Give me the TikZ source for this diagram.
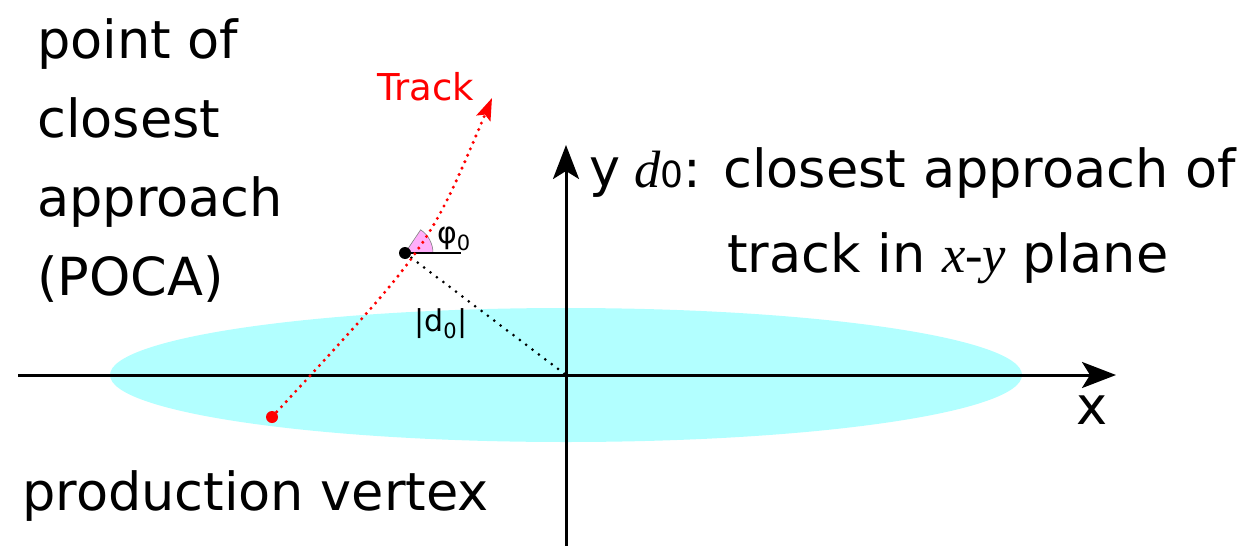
\documentclass[tikz,border=0pt]{standalone}
\usepackage{fontspec}
\setmainfont{DejaVu Sans}
\newfontfamily\serifit{Liberation Serif}
\usetikzlibrary{arrows.meta}

\definecolor{spot}{RGB}{178,255,255}
\definecolor{wedge}{RGB}{255,175,250}

\tikzset{
  big/.style={font=\fontsize{52.5}{79}\selectfont, inner sep=0pt},
  small/.style={font=\fontsize{30}{34}\selectfont, inner sep=0pt},
  axis/.style={line width=3pt, -{Stealth[length=34pt,width=26pt,inset=8pt]}},
}

\begin{document}
\begin{tikzpicture}[x=1pt,y=-1pt]
		\useasboundingbox (0,0) rectangle (1253,546);
		
		% Beam spot
		\fill[spot] (566,375) ellipse [x radius=456, y radius=67];
		
		% Points
		\coordinate (O) at (566,375);
		\coordinate (P) at (405,253); % POCA
		\coordinate (V) at (272,417); % production vertex
		\coordinate (T) at (492,98);
		\coordinate (Xs) at (18,375);
		\coordinate (Xe) at (1116,375);
		\coordinate (Ys) at (566,546);
		\coordinate (Ye) at (566,145);
		\coordinate (H) at (461,253);
		\coordinate (W1) at (433,253);
		\coordinate (W2) at (421,230);
		
		% Axes
		\draw[axis] (Xs) -- (Xe);
		\draw[axis] (Ys) -- (Ye);
		
		% Angle
		\filldraw[fill=wedge, draw=gray, line width=0.6pt] (P) -- (W1) arc [start angle=0, end angle=-56, radius=28] -- cycle;
		\draw[line width=2.2pt] (P) -- (H);
		
		% Lines
		\draw[line width=3pt, line cap=round, dash pattern=on 0pt off 8pt] (P) -- (O);
		\draw[red, line width=3.4pt, line cap=round, dash pattern=on 0pt off 7pt,
			-{Stealth[length=22pt,width=15pt,inset=4pt]}] (V) .. controls (429,247) .. (T);
		
		% Points drawn
		\fill (P) circle [radius=6pt];
		\fill[red] (V) circle [radius=6pt];
		
		% Labels
		\node[big, anchor=north west, align=left] (poca) at (37,18) {point of\\closest\\approach\\(POCA)};
		\node[big, anchor=base west] (vtx) at (22,510) {production vertex};
		\node[big, anchor=base west] (xlab) at (1076,424) {x};
		\node[big, anchor=base west] (ylab) at (589,186) {y};
		\node[big, anchor=base west] (dnote) at (634,187) {{\serifit\itshape d}{\fontsize{36}{36}\selectfont 0}: closest approach of};
		\node[big, anchor=base west] (dnote2) at (727,272) {track in {\serifit\itshape x-y} plane};
		\node[small, font=\fontsize{37}{40}\selectfont, red, anchor=base west] (track) at (377,100) {Track};
		\node[small, anchor=base west] (phi) at (437,243) {φ\textsubscript{0}};
		\node[small, anchor=base west] (dlab) at (414,331) {|d\textsubscript{0}|};
		
	\end{tikzpicture}
\end{document}
